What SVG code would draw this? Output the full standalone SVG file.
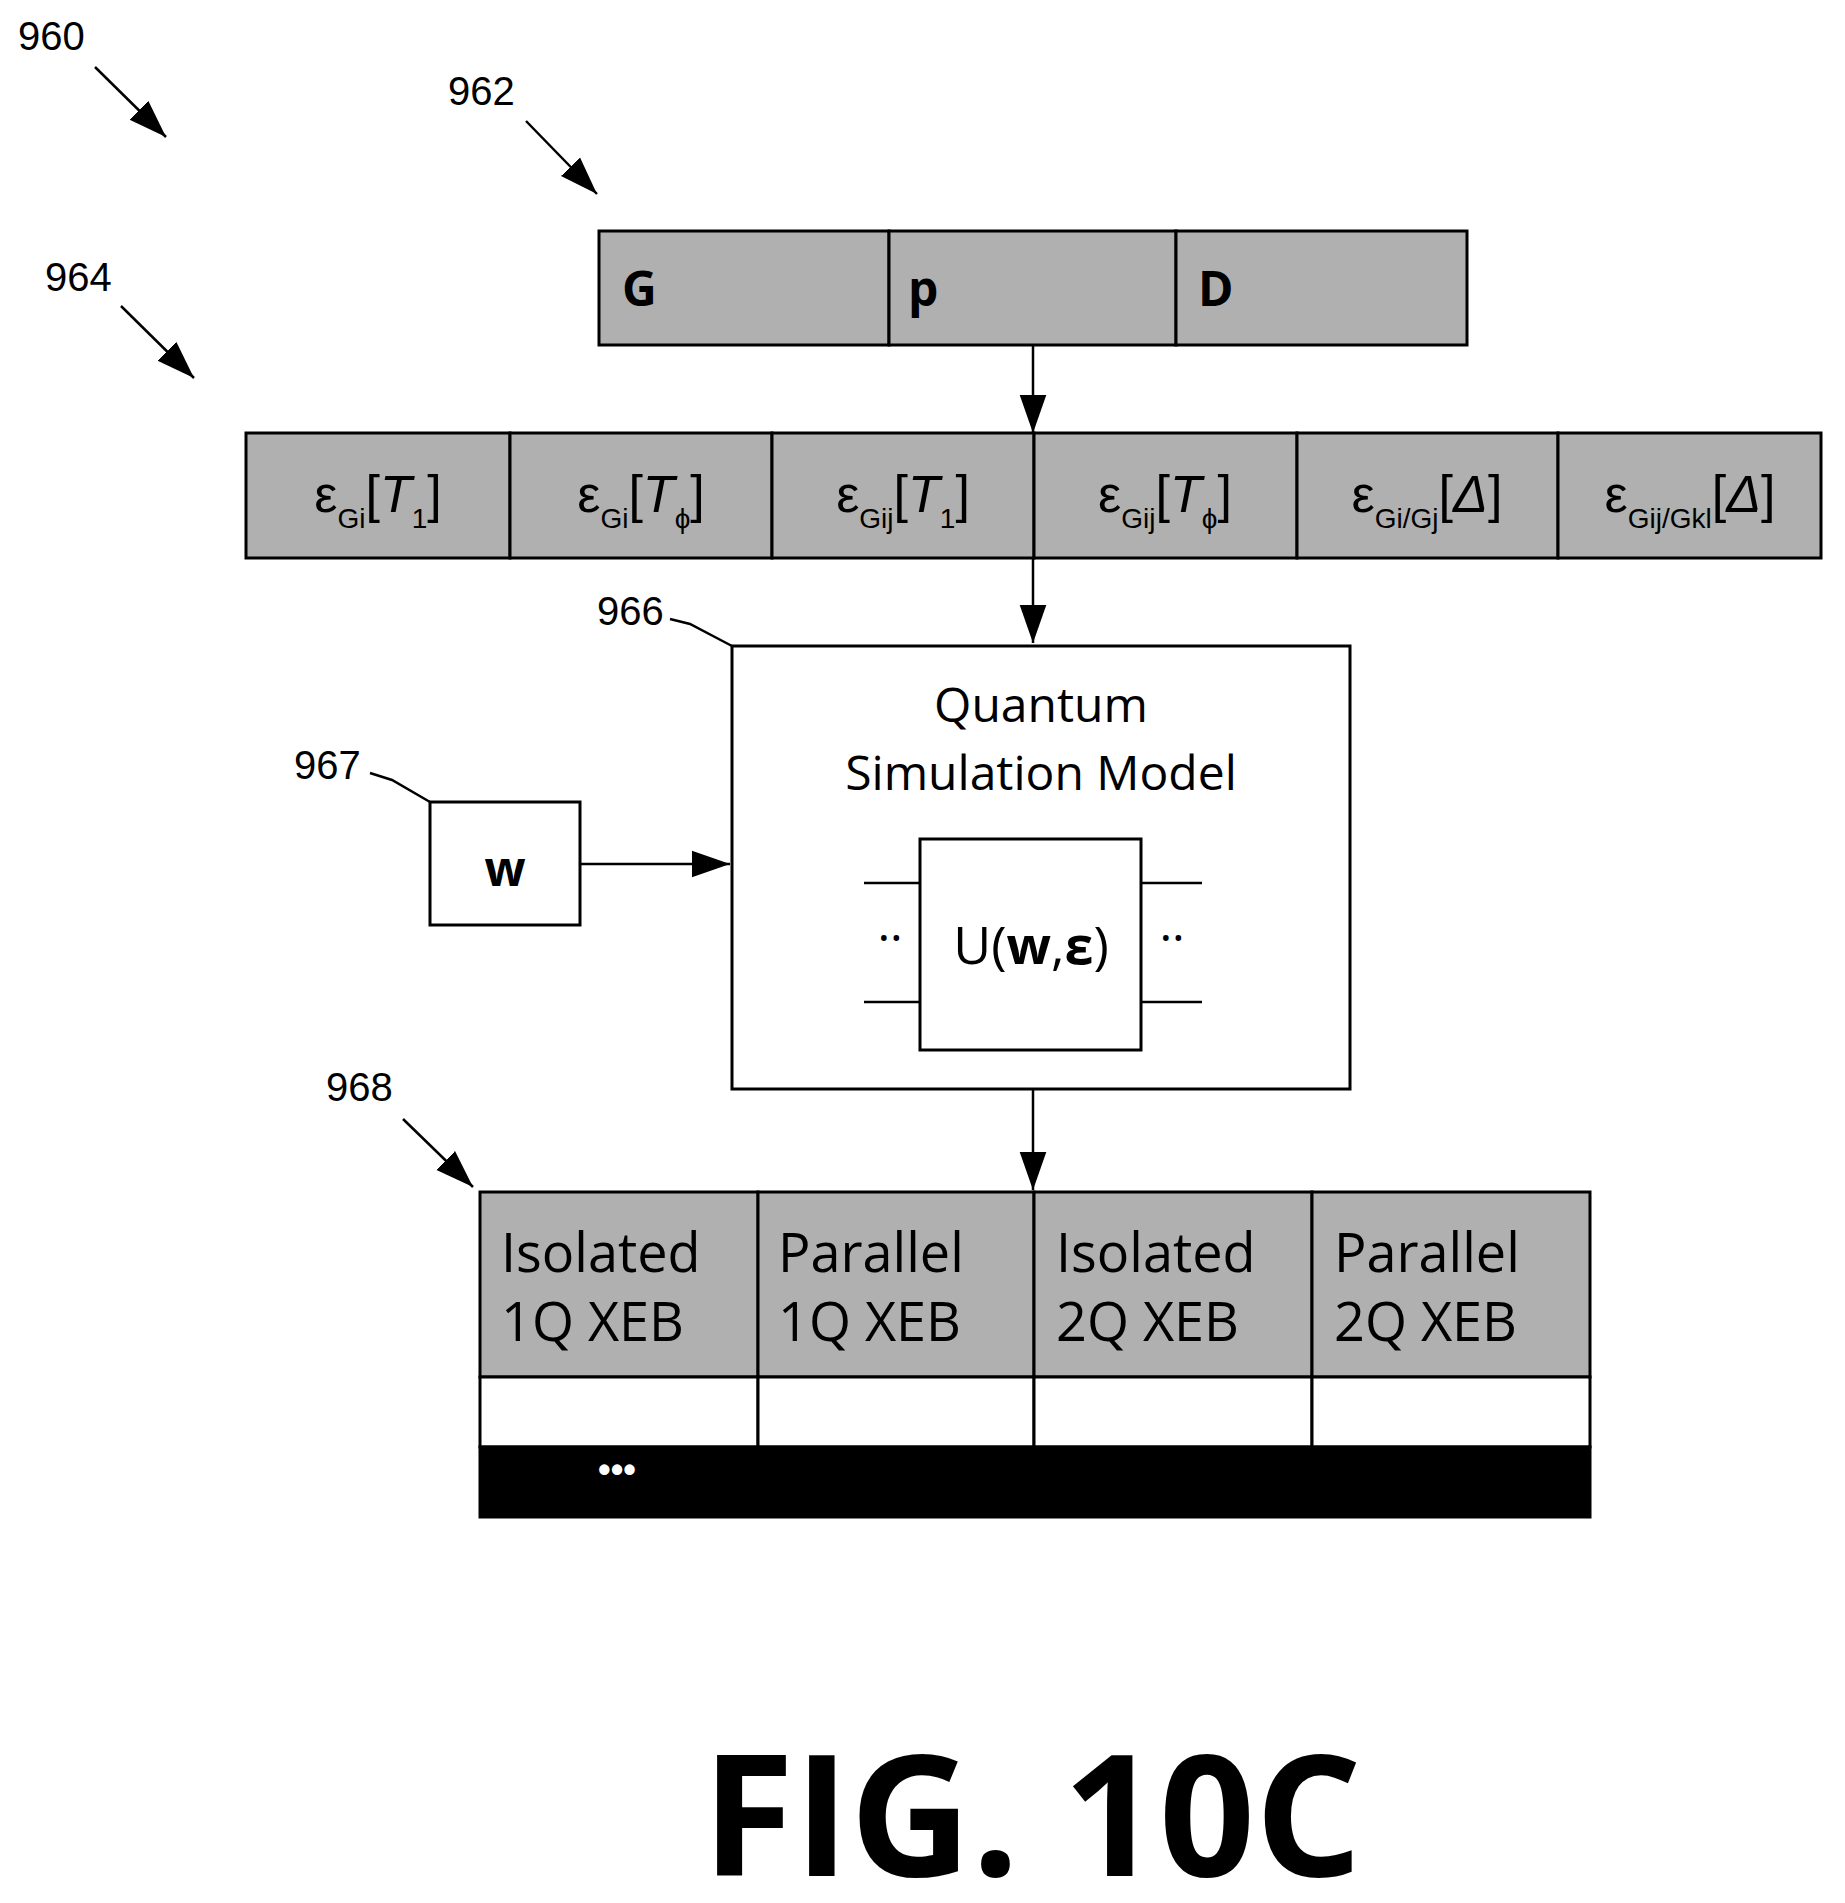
<svg xmlns="http://www.w3.org/2000/svg" width="1845" height="1903" viewBox="0 0 1845 1903">
<style>
.lbl{font-family:"Liberation Sans",Arial,sans-serif;font-size:40px;fill:#000}
.big{font-family:"Open Sans","Liberation Sans",sans-serif;font-size:48px;fill:#000}
.bold{font-family:"Open Sans","Liberation Sans",sans-serif;font-size:48px;font-weight:bold;fill:#000}
.cell{fill:#b0b0b0;stroke:#000;stroke-width:3}
.box{fill:#fff;stroke:#000;stroke-width:3}
.ln{stroke:#000;stroke-width:2.5;fill:none}
.eps{font-family:"Liberation Sans",Arial,sans-serif;font-size:52px;fill:#000}
.sub{font-size:28px}
</style>
<defs>
<marker id="ahb" viewBox="0 0 10 10" refX="10" refY="5" markerWidth="38" markerHeight="38" markerUnits="userSpaceOnUse" orient="auto"><path d="M0,1.5 L10,5 L0,8.5 z" fill="#000"/></marker>
</defs>
<g id="refs">
<text class="lbl" x="18" y="50">960</text>
<text class="lbl" x="448" y="105">962</text>
<text class="lbl" x="45" y="291">964</text>
<text class="lbl" x="597" y="625">966</text>
<text class="lbl" x="294" y="779">967</text>
<text class="lbl" x="326" y="1101">968</text>
</g>
<g id="connectors">
<line class="ln" x1="95" y1="67" x2="166" y2="137" marker-end="url(#ahb)"/>
<line class="ln" x1="526" y1="121" x2="597" y2="194" marker-end="url(#ahb)"/>
<line class="ln" x1="121" y1="306" x2="194" y2="378" marker-end="url(#ahb)"/>
<line class="ln" x1="403" y1="1119" x2="473" y2="1187" marker-end="url(#ahb)"/>
<polyline class="ln" points="670,619 690,624 732,646"/>
<polyline class="ln" points="370,773 392,780 430,802"/>
<line class="ln" x1="1033" y1="345" x2="1033" y2="433" marker-end="url(#ahb)"/>
<line class="ln" x1="1033" y1="558" x2="1033" y2="643" marker-end="url(#ahb)"/>
<line class="ln" x1="580" y1="864" x2="730" y2="864" marker-end="url(#ahb)"/>
<line class="ln" x1="1033" y1="1089" x2="1033" y2="1190" marker-end="url(#ahb)"/>
</g>
<g id="n962">
<rect class="cell" x="599" y="231" width="290" height="114"/>
<rect class="cell" x="889" y="231" width="287" height="114"/>
<rect class="cell" x="1176" y="231" width="291" height="114"/>
<text class="bold" x="622" y="306">G</text>
<text class="bold" x="908" y="306">p</text>
<text class="bold" x="1198" y="306">D</text>
</g>
<g id="n964">
<rect class="cell" x="246" y="433" width="264" height="125"/>
<rect class="cell" x="510" y="433" width="262" height="125"/>
<rect class="cell" x="772" y="433" width="262" height="125"/>
<rect class="cell" x="1034" y="433" width="263" height="125"/>
<rect class="cell" x="1297" y="433" width="261" height="125"/>
<rect class="cell" x="1558" y="433" width="263" height="125"/>
<text class="eps" x="378" y="512" text-anchor="middle">ε<tspan class="sub" dy="16">Gi</tspan><tspan dy="-16">[</tspan><tspan font-style="italic">T</tspan><tspan class="sub" dy="16">1</tspan><tspan dy="-16">]</tspan></text>
<text class="eps" x="641" y="512" text-anchor="middle">ε<tspan class="sub" dy="16">Gi</tspan><tspan dy="-16">[</tspan><tspan font-style="italic">T</tspan><tspan class="sub" dy="16">ϕ</tspan><tspan dy="-16">]</tspan></text>
<text class="eps" x="903" y="512" text-anchor="middle">ε<tspan class="sub" dy="16">Gij</tspan><tspan dy="-16">[</tspan><tspan font-style="italic">T</tspan><tspan class="sub" dy="16">1</tspan><tspan dy="-16">]</tspan></text>
<text class="eps" x="1165" y="512" text-anchor="middle">ε<tspan class="sub" dy="16">Gij</tspan><tspan dy="-16">[</tspan><tspan font-style="italic">T</tspan><tspan class="sub" dy="16">ϕ</tspan><tspan dy="-16">]</tspan></text>
<text class="eps" x="1427" y="512" text-anchor="middle">ε<tspan class="sub" dy="16">Gi/Gj</tspan><tspan dy="-16">[</tspan><tspan font-style="italic">Δ</tspan>]</text>
<text class="eps" x="1690" y="512" text-anchor="middle">ε<tspan class="sub" dy="16">Gij/Gkl</tspan><tspan dy="-16">[</tspan><tspan font-style="italic">Δ</tspan>]</text>
</g>
<g id="n966">
<rect class="box" x="732" y="646" width="618" height="443"/>
<text class="big" x="1041" y="722" text-anchor="middle">Quantum</text>
<text class="big" x="1041" y="790" text-anchor="middle">Simulation Model</text>
<line class="ln" x1="864" y1="883" x2="920" y2="883"/>
<line class="ln" x1="864" y1="1002" x2="920" y2="1002"/>
<line class="ln" x1="1141" y1="883" x2="1202" y2="883"/>
<line class="ln" x1="1141" y1="1002" x2="1202" y2="1002"/>
<rect class="box" x="920" y="839" width="221" height="211"/>
<text class="big" x="890" y="955" text-anchor="middle">··</text>
<text class="big" x="1172" y="955" text-anchor="middle">··</text>
<text class="big" x="1031" y="964" text-anchor="middle" style="font-size:52px">U(<tspan font-weight="bold">w</tspan>,<tspan font-weight="bold">ε</tspan>)</text>
</g>
<g id="n967">
<rect class="box" x="430" y="802" width="150" height="123"/>
<text class="bold" x="505" y="886" text-anchor="middle">w</text>
</g>
<g id="n968">
<rect class="cell" x="480" y="1192" width="278" height="185"/>
<rect class="cell" x="758" y="1192" width="276" height="185"/>
<rect class="cell" x="1034" y="1192" width="278" height="185"/>
<rect class="cell" x="1312" y="1192" width="278" height="185"/>
<rect class="box" x="480" y="1377" width="278" height="70"/>
<rect class="box" x="758" y="1377" width="276" height="70"/>
<rect class="box" x="1034" y="1377" width="278" height="70"/>
<rect class="box" x="1312" y="1377" width="278" height="70"/>
<rect x="480" y="1447" width="1110" height="70" fill="#000" stroke="#000" stroke-width="3"/>
<text x="617" y="1482" text-anchor="middle" style="fill:#fff;font-family:'Liberation Sans',sans-serif;font-size:36px;font-weight:bold">•••</text>
<g class="big" style="font-size:54px">
<text x="501" y="1272">Isolated</text><text x="501" y="1341">1Q XEB</text>
<text x="778" y="1272">Parallel</text><text x="778" y="1341">1Q XEB</text>
<text x="1056" y="1272">Isolated</text><text x="1056" y="1341">2Q XEB</text>
<text x="1334" y="1272">Parallel</text><text x="1334" y="1341">2Q XEB</text>
</g>
</g>
<text x="1032" y="1876" text-anchor="middle" font-family="Open Sans, Liberation Sans, sans-serif" font-weight="bold" font-size="168">FIG. 10C</text>
</svg>
